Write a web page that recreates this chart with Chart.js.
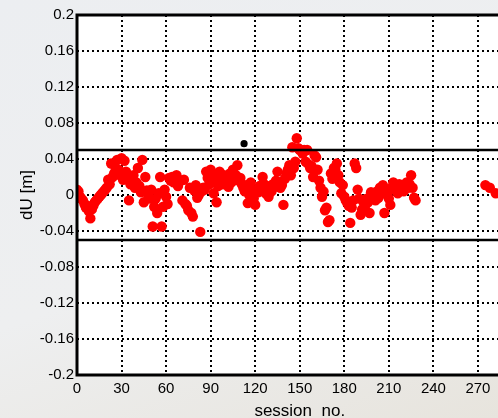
<!DOCTYPE html>
<html>
<head>
<meta charset="utf-8">
<script src="https://cdn.jsdelivr.net/npm/chart.js@4/dist/chart.umd.min.js"></script>
<style>
  html, body { margin: 0; padding: 0; width: 498px; height: 418px; overflow: hidden; }
  body { background: linear-gradient(160deg, #eceef1 0%, #eeeff0 55%, #e7e4dd 100%); }
  #wrap { position: absolute; left: 0; top: 0; width: 540px; height: 422px; }
</style>
</head>
<body>
<div id="wrap"><canvas id="c" width="540" height="422"></canvas></div>
<script>
// ---- data ----
// dU [m] for consecutive sessions starting at session 0
const firstSession = 0;
const dU = [
  0.006, 0.004, -0.002, -0.004, -0.006, -0.010, -0.014, -0.012, -0.018, -0.026, -0.016,
  -0.012, -0.008, -0.006, -0.004, -0.002, 0.000, 0.002, 0.004, 0.006, 0.008,
  0.017, 0.012, 0.035, 0.020, 0.024, 0.030, 0.039, 0.028, 0.022, 0.041,
  0.017, 0.038, 0.026, 0.020, -0.006, 0.012, 0.017, 0.022, 0.008, 0.014,
  0.030, 0.010, 0.003, 0.039, -0.008, 0.020, 0.005, 0.000, -0.004, 0.006,
  -0.035, -0.013, -0.004, -0.020, 0.002, 0.020, -0.035, -0.013, 0.006, -0.002,
  -0.010, 0.019, 0.016, 0.020, 0.014, 0.018, 0.022, 0.010, 0.015, 0.016,
  -0.006, 0.017, -0.010, -0.012, -0.017, 0.008, -0.020, -0.024, 0.005, 0.011,
  -0.003, 0.000, -0.041, 0.004, 0.008, 0.006, 0.026, 0.019, 0.012, 0.028,
  0.015, 0.002, 0.020, -0.008, 0.010, 0.026, 0.018, 0.012, 0.022, 0.016,
  0.020, 0.009, 0.024, 0.014, 0.028, 0.018, 0.022, 0.033, 0.016, 0.019,
  0.012, 0.008, 0.004, 0.011, -0.009, 0.000, 0.014, 0.006, -0.004, -0.011,
  0.004, 0.003, 0.010, 0.008, 0.020, 0.012, 0.002, 0.006, -0.002, 0.010,
  0.004, 0.012, 0.009, 0.016, 0.026, 0.014, 0.008, 0.011, -0.011, 0.018,
  0.024, 0.028, 0.033, 0.022, 0.053, 0.030, 0.037, 0.063, 0.052, 0.050,
  0.050, 0.046, 0.050, 0.037, 0.050, 0.034, 0.030, 0.032, 0.020, 0.044,
  0.042, 0.028, 0.016, 0.008, -0.002, 0.004, -0.017, -0.014, -0.030, -0.028,
  0.024, 0.018, 0.030, 0.028, 0.035, 0.022, 0.014, 0.002, 0.011, -0.002,
  -0.006, -0.009, -0.012, -0.031, -0.014, -0.006, 0.035, 0.030, 0.006, -0.004,
  -0.022, -0.016, -0.008, -0.012, -0.004, -0.008, -0.020, 0.003, -0.002, 0.000,
  -0.006, 0.004, -0.003, 0.008, 0.002, 0.011, -0.020, 0.006, 0.000, -0.004,
  -0.011, 0.008, 0.014, 0.006, 0.010, 0.002, 0.012, 0.011, 0.006, 0.004,
  0.010, 0.014, 0.008, 0.012, 0.022, 0.008, -0.003, -0.006
];
// a few late sessions
const lateSessions = [275, 278, 282];
const lateDU = [0.011, 0.008, 0.002];
// the single black outlier
const outlierSession = [112.5];
const outlierDU = [0.057];
// threshold lines
const thresholds = [0.05, -0.05];
const xRange = [0, 300];
const xTicks = [0, 30, 60, 90, 120, 150, 180, 210, 240, 270, 300];
const yTicks = [-0.2, -0.16, -0.12, -0.08, -0.04, 0, 0.04, 0.08, 0.12, 0.16, 0.2];

// ---- build datasets ----
const redPoints = dU.map((v, i) => ({ x: firstSession + i, y: v }))
  .concat(lateSessions.map((s, i) => ({ x: s, y: lateDU[i] })));
const blackPoints = outlierSession.map((s, i) => ({ x: s, y: outlierDU[i] }));
const lineSets = thresholds.map(t => ({
  type: 'line',
  data: [{ x: xRange[0], y: t }, { x: xRange[1], y: t }],
  borderColor: '#000', borderWidth: 2.5, pointRadius: 0, fill: false, order: 0
}));

const fontFam = '"Liberation Sans", Arial, sans-serif';

const frame = {
  id: 'frame',
  beforeDraw(chart) {
    const { ctx, chartArea: a } = chart;
    ctx.save();
    ctx.fillStyle = '#ffffff';
    ctx.fillRect(a.left, a.top, a.right - a.left, a.bottom - a.top);
    ctx.restore();
  },
  afterDraw(chart) {
    const { ctx, chartArea: a } = chart;
    ctx.save();
    ctx.strokeStyle = '#000';
    ctx.lineWidth = 3;
    ctx.beginPath();
    ctx.moveTo(a.right + 2, a.top);
    ctx.lineTo(a.left, a.top);
    ctx.lineTo(a.left, a.bottom);
    ctx.lineTo(a.right + 2, a.bottom);
    ctx.stroke();
    ctx.restore();
  }
};

new Chart(document.getElementById('c'), {
  type: 'scatter',
  data: {
    datasets: [
      ...lineSets,
      { data: blackPoints, backgroundColor: '#000', borderWidth: 0, pointRadius: 3.6, order: 1 },
      { data: redPoints, backgroundColor: '#ff0000', borderWidth: 0, pointRadius: 5.2, order: 2 }
    ]
  },
  options: {
    responsive: false,
    animation: false,
    layout: { padding: { left: 0, top: 15, right: 16, bottom: 0 } },
    plugins: { legend: { display: false }, tooltip: { enabled: false } },
    scales: {
      x: {
        type: 'linear', min: xRange[0], max: xRange[1],
        afterBuildTicks: s => { s.ticks = xTicks.map(v => ({ value: v })); },
        afterFit: s => { s.height = 47; },
        grid: { color: '#000', lineWidth: 2, borderDash: [2, 3], drawTicks: false },
        border: { display: false, dash: [2, 3] },
        ticks: { color: '#000', font: { family: fontFam, size: 15 }, padding: 5, maxRotation: 0, autoSkip: false },
        title: { display: true, text: 'session  no.', color: '#000', font: { family: fontFam, size: 17 }, padding: 0 }
      },
      y: {
        type: 'linear', min: -0.2, max: 0.2,
        afterBuildTicks: s => { s.ticks = yTicks.map(v => ({ value: v })); },
        afterFit: s => { s.width = 77; },
        grid: { color: '#000', lineWidth: 2, borderDash: [2, 3], drawTicks: false },
        border: { display: false, dash: [2, 3] },
        ticks: {
          color: '#000', font: { family: fontFam, size: 15 }, padding: 3, autoSkip: false,
          callback: v => String(Math.round(v * 100) / 100)
        },
        title: { display: true, text: 'dU [m]', color: '#000', font: { family: fontFam, size: 17 }, padding: { top: 17, bottom: 0 } }
      }
    }
  },
  plugins: [frame]
});
</script>
</body>
</html>
